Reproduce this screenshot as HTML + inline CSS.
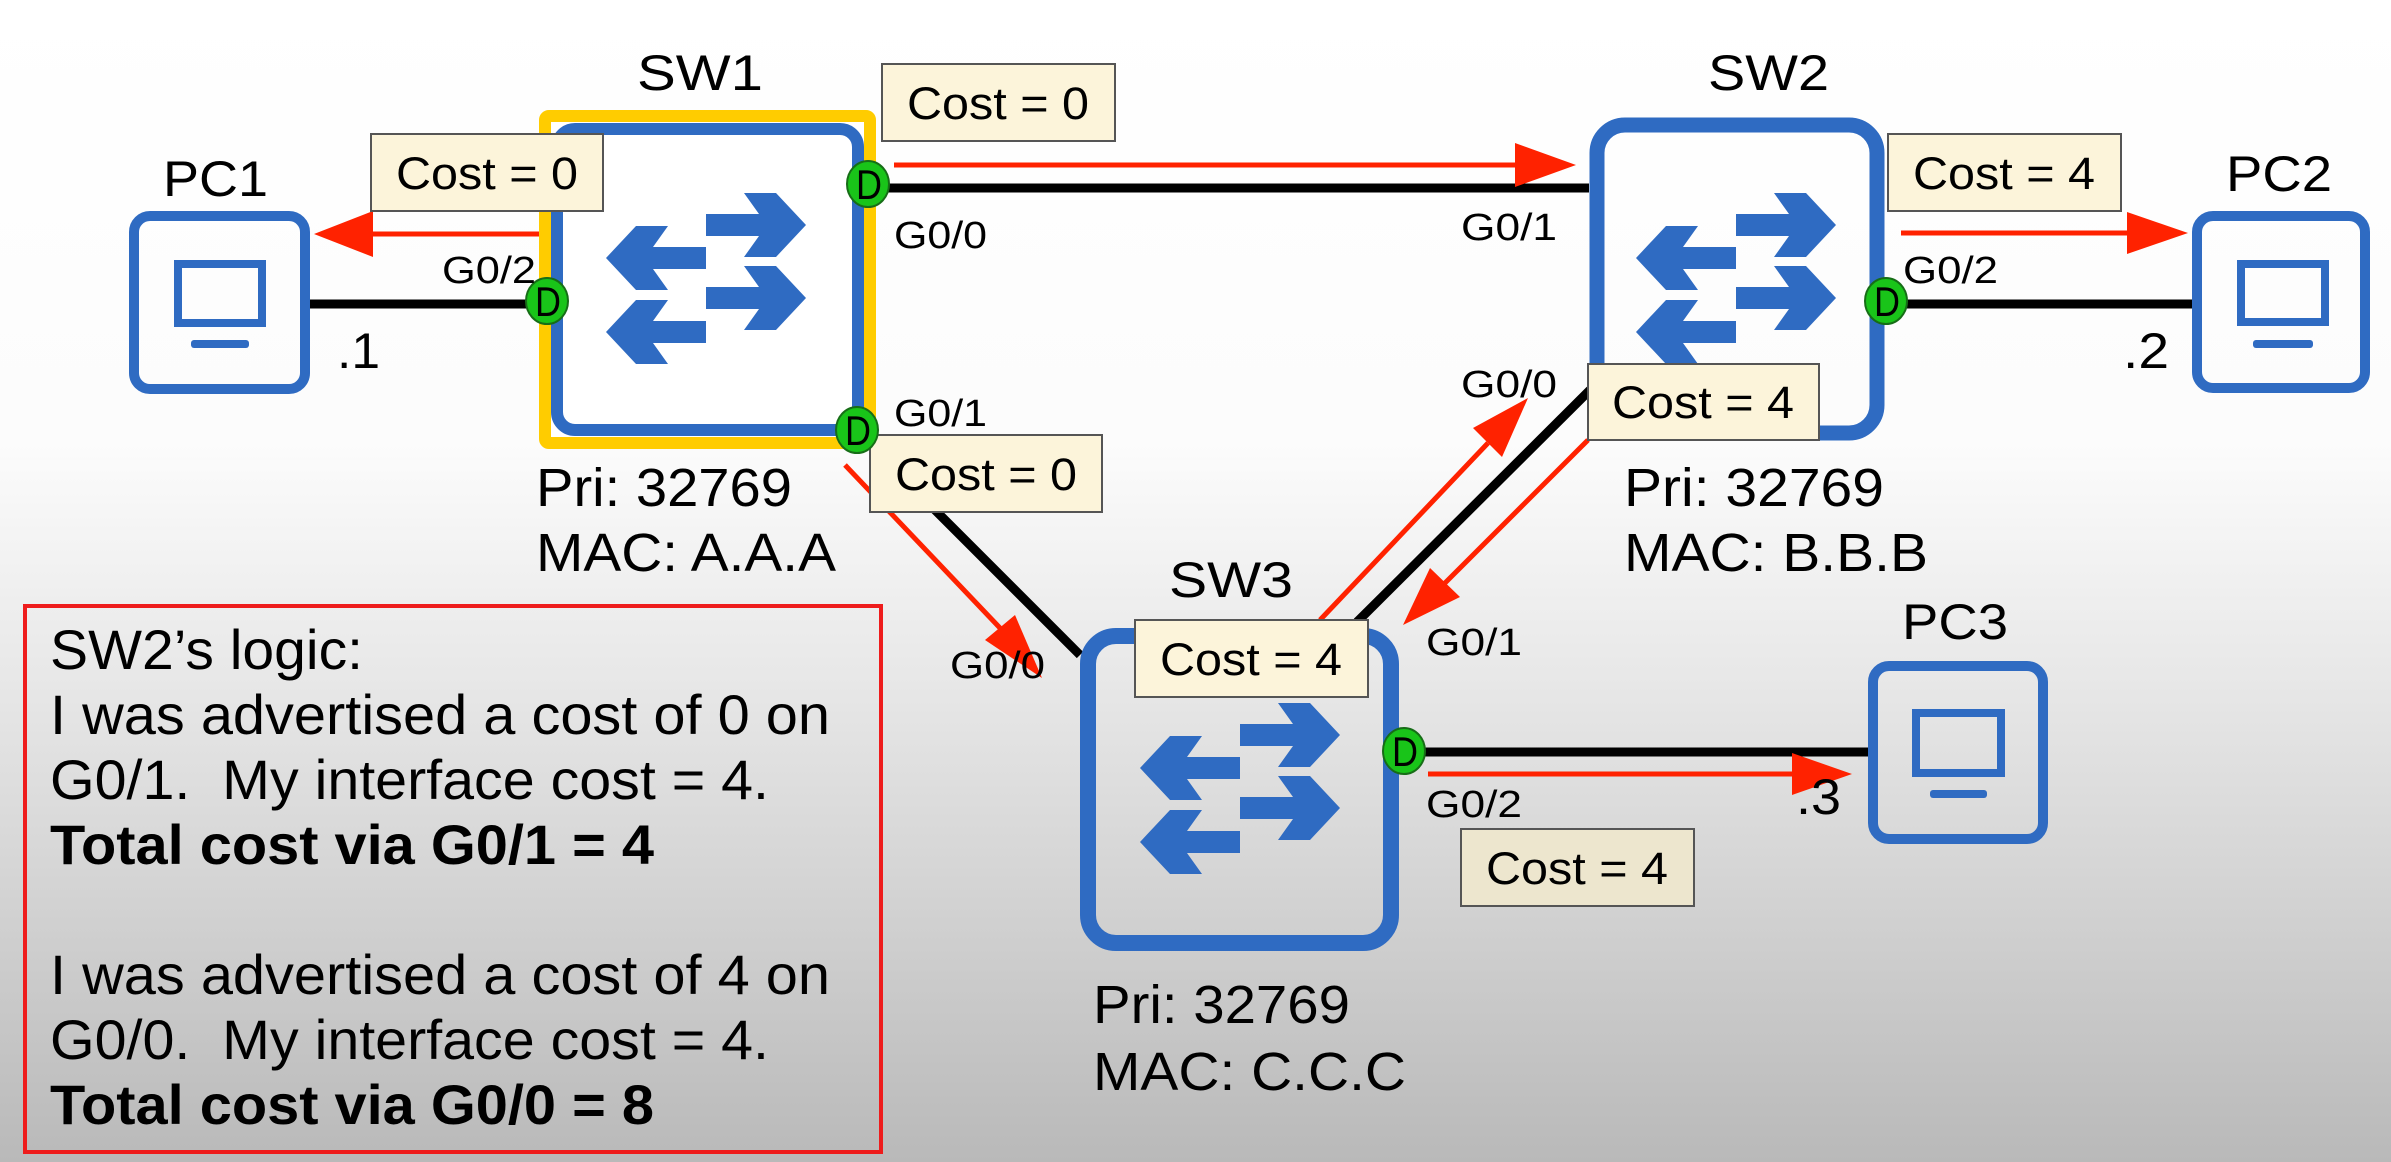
<!DOCTYPE html>
<html><head><meta charset="utf-8"><style>
html,body{margin:0;padding:0;width:2391px;height:1162px;overflow:hidden}
svg{display:block}
text{font-family:"Liberation Sans",sans-serif;fill:#000}
</style></head><body>
<svg width="2391" height="1162" viewBox="0 0 2391 1162" xmlns="http://www.w3.org/2000/svg">
<defs>
<linearGradient id="bg" x1="0" y1="0" x2="0" y2="1">
<stop offset="0" stop-color="#ffffff"/><stop offset="0.38" stop-color="#fcfcfc"/><stop offset="0.6" stop-color="#e6e6e6"/><stop offset="1" stop-color="#b9b9b9"/>
</linearGradient>
<g id="icon" fill="#2f6bc2">
<polygon transform="translate(0,-55)" points="0,-11 53,-11 38,-32 70,-32 100,0 70,32 38,32 53,11 0,11"/>
<polygon transform="translate(0,18)" points="0,-11 53,-11 38,-32 70,-32 100,0 70,32 38,32 53,11 0,11"/>
<polygon transform="translate(0,-22) scale(-1,1)" points="0,-11 53,-11 38,-32 70,-32 100,0 70,32 38,32 53,11 0,11"/>
<polygon transform="translate(0,52) scale(-1,1)" points="0,-11 53,-11 38,-32 70,-32 100,0 70,32 38,32 53,11 0,11"/>
</g>
</defs>
<rect width="2391" height="1162" fill="url(#bg)"/>

<g stroke="#000" stroke-width="9">
<line x1="310" y1="304" x2="547" y2="304"/>
<line x1="868" y1="188" x2="1589" y2="188"/>
<line x1="1886" y1="304" x2="2192" y2="304"/>
<line x1="1404" y1="752" x2="1868" y2="752"/>
<line x1="857" y1="432" x2="1080" y2="655"/>
<line x1="1590" y1="390" x2="1357" y2="622"/>
</g>

<g stroke="#ff2200" stroke-width="5" fill="none">
<line x1="543" y1="234" x2="370" y2="234"/>
<line x1="894" y1="165" x2="1518" y2="165"/>
<line x1="1901" y1="233" x2="2130" y2="233"/>
<line x1="1428" y1="774" x2="1795" y2="774"/>
<line x1="845" y1="465" x2="1000" y2="628"/>
<line x1="1320" y1="620" x2="1488" y2="443"/>
<line x1="1588" y1="440" x2="1445" y2="583"/>
</g>
<g fill="#ff2200">
<polygon points="314,234 373,211 373,257"/>
<polygon points="1576,165 1515,143 1515,187"/>
<polygon points="2188,233 2127,212 2127,254"/>
<polygon points="1852,774 1792,753 1792,795"/>
<polygon points="1042,678 985,640 1015,615"/>
<polygon points="1528,398 1473,428 1502,457"/>
<polygon points="1403,625 1430,568 1460,597"/>
</g>

<g fill="none" stroke="#2f6bc2">
<rect x="134" y="216" width="171" height="173" rx="16" stroke-width="10"/>
<rect x="178" y="264" width="84" height="59" stroke-width="8"/>
<rect x="2197" y="216" width="168" height="172" rx="16" stroke-width="10"/>
<rect x="2241" y="264" width="84" height="58" stroke-width="8"/>
<rect x="1873" y="666" width="170" height="173" rx="16" stroke-width="10"/>
<rect x="1916" y="713" width="85" height="60" stroke-width="8"/>
</g>
<g fill="#2f6bc2">
<rect x="191" y="340" width="58" height="8" rx="3"/>
<rect x="2253" y="340" width="60" height="8" rx="3"/>
<rect x="1930" y="790" width="57" height="8" rx="3"/>
</g>

<rect x="545" y="116" width="325" height="327" rx="4" fill="#fff" stroke="#ffcc00" stroke-width="12"/>
<rect x="557" y="129" width="301" height="301" rx="18" fill="none" stroke="#2f6bc2" stroke-width="12"/>
<use href="#icon" transform="translate(706,280)"/>
<rect x="1597" y="125" width="280" height="308" rx="28" fill="none" stroke="#2f6bc2" stroke-width="15"/>
<use href="#icon" transform="translate(1736,280)"/>
<rect x="1088" y="636" width="303" height="307" rx="28" fill="none" stroke="#2f6bc2" stroke-width="16"/>
<use href="#icon" transform="translate(1240,790)"/>

<g fill="#fcf4da" stroke="#555" stroke-width="2">
<rect x="371" y="134" width="232" height="77"/>
<rect x="882" y="64" width="233" height="77"/>
<rect x="870" y="435" width="232" height="77"/>
<rect x="1888" y="134" width="233" height="77"/>
<rect x="1588" y="364" width="231" height="76"/>
<rect x="1135" y="620" width="233" height="77"/>
<rect x="1461" y="829" width="233" height="77" fill="#ede6ce"/>
</g>
<g font-size="45" text-anchor="middle">
<text x="487" y="189" textLength="182" lengthAdjust="spacingAndGlyphs">Cost = 0</text>
<text x="998" y="119" textLength="182" lengthAdjust="spacingAndGlyphs">Cost = 0</text>
<text x="986" y="490" textLength="182" lengthAdjust="spacingAndGlyphs">Cost = 0</text>
<text x="2004" y="189" textLength="182" lengthAdjust="spacingAndGlyphs">Cost = 4</text>
<text x="1703" y="418" textLength="182" lengthAdjust="spacingAndGlyphs">Cost = 4</text>
<text x="1251" y="675" textLength="182" lengthAdjust="spacingAndGlyphs">Cost = 4</text>
<text x="1577" y="884" textLength="182" lengthAdjust="spacingAndGlyphs">Cost = 4</text>
</g>

<g fill="#19c419" stroke="#176d17" stroke-width="2">
<ellipse cx="547" cy="301" rx="21" ry="23"/>
<ellipse cx="868" cy="184" rx="21" ry="23"/>
<ellipse cx="857" cy="430" rx="21" ry="23"/>
<ellipse cx="1886" cy="301" rx="21" ry="23"/>
<ellipse cx="1404" cy="751" rx="21" ry="23"/>
</g>
<g font-size="42" text-anchor="middle">
<text x="548" y="316" textLength="26" lengthAdjust="spacingAndGlyphs">D</text><text x="869" y="199" textLength="26" lengthAdjust="spacingAndGlyphs">D</text><text x="858" y="445" textLength="26" lengthAdjust="spacingAndGlyphs">D</text>
<text x="1887" y="316" textLength="26" lengthAdjust="spacingAndGlyphs">D</text><text x="1405" y="766" textLength="26" lengthAdjust="spacingAndGlyphs">D</text>
</g>

<g font-size="50">
<text x="637" y="90" textLength="126" lengthAdjust="spacingAndGlyphs">SW1</text>
<text x="1708" y="90" textLength="121" lengthAdjust="spacingAndGlyphs">SW2</text>
<text x="1169" y="597" textLength="124" lengthAdjust="spacingAndGlyphs">SW3</text>
<text x="163" y="196" textLength="105" lengthAdjust="spacingAndGlyphs">PC1</text>
<text x="2226" y="191" textLength="106" lengthAdjust="spacingAndGlyphs">PC2</text>
<text x="1902" y="639" textLength="106" lengthAdjust="spacingAndGlyphs">PC3</text>
<text x="337" y="368" textLength="43" lengthAdjust="spacingAndGlyphs">.1</text>
<text x="2123" y="368" textLength="46" lengthAdjust="spacingAndGlyphs">.2</text>
<text x="1796" y="814" textLength="45" lengthAdjust="spacingAndGlyphs">.3</text>
</g>
<g font-size="38">
<text x="442" y="283" textLength="94" lengthAdjust="spacingAndGlyphs">G0/2</text>
<text x="894" y="248" textLength="93" lengthAdjust="spacingAndGlyphs">G0/0</text>
<text x="894" y="426" textLength="93" lengthAdjust="spacingAndGlyphs">G0/1</text>
<text x="1461" y="240" textLength="96" lengthAdjust="spacingAndGlyphs">G0/1</text>
<text x="1461" y="397" textLength="96" lengthAdjust="spacingAndGlyphs">G0/0</text>
<text x="1903" y="283" textLength="95" lengthAdjust="spacingAndGlyphs">G0/2</text>
<text x="950" y="678" textLength="95" lengthAdjust="spacingAndGlyphs">G0/0</text>
<text x="1426" y="655" textLength="96" lengthAdjust="spacingAndGlyphs">G0/1</text>
<text x="1426" y="817" textLength="96" lengthAdjust="spacingAndGlyphs">G0/2</text>
</g>
<g font-size="54">
<text x="536" y="506" textLength="256" lengthAdjust="spacingAndGlyphs">Pri: 32769</text>
<text x="536" y="571" textLength="300" lengthAdjust="spacingAndGlyphs">MAC: A.A.A</text>
<text x="1624" y="506" textLength="260" lengthAdjust="spacingAndGlyphs">Pri: 32769</text>
<text x="1624" y="571" textLength="304" lengthAdjust="spacingAndGlyphs">MAC: B.B.B</text>
<text x="1093" y="1023" textLength="257" lengthAdjust="spacingAndGlyphs">Pri: 32769</text>
<text x="1093" y="1090" textLength="313" lengthAdjust="spacingAndGlyphs">MAC: C.C.C</text>
</g>

<rect x="25" y="606" width="856" height="546" fill="none" stroke="#ee1c1c" stroke-width="4"/>
<g font-size="56">
<text x="50" y="669" textLength="313" lengthAdjust="spacingAndGlyphs">SW2’s logic:</text>
<text x="50" y="734" textLength="780" lengthAdjust="spacingAndGlyphs">I was advertised a cost of 0 on</text>
<text x="50" y="799" textLength="719" lengthAdjust="spacingAndGlyphs" xml:space="preserve">G0/1.  My interface cost = 4.</text>
<text x="50" y="864" textLength="604" lengthAdjust="spacingAndGlyphs" font-weight="bold">Total cost via G0/1 = 4</text>
<text x="50" y="994" textLength="780" lengthAdjust="spacingAndGlyphs">I was advertised a cost of 4 on</text>
<text x="50" y="1059" textLength="719" lengthAdjust="spacingAndGlyphs" xml:space="preserve">G0/0.  My interface cost = 4.</text>
<text x="50" y="1124" textLength="604" lengthAdjust="spacingAndGlyphs" font-weight="bold">Total cost via G0/0 = 8</text>
</g>
</svg>
</body></html>
